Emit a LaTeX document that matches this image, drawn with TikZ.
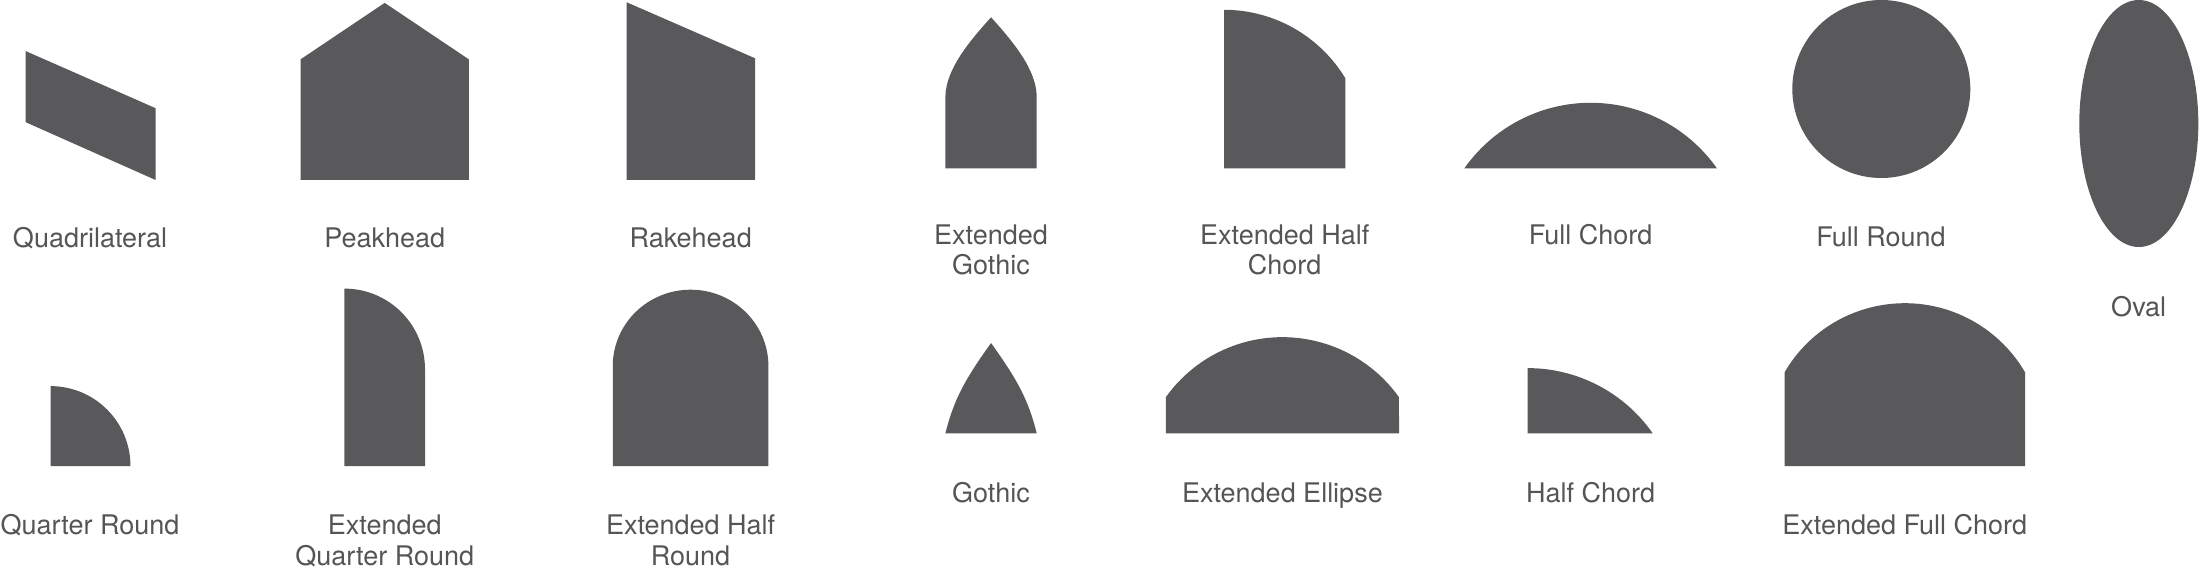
\documentclass[tikz,border=0pt]{standalone}
\usepackage{fontspec}
\setmainfont{TeX Gyre Heros}
\definecolor{shapegray}{RGB}{89,89,91}
\definecolor{textgray}{RGB}{85,85,87}
\begin{document}
\begin{tikzpicture}[x=0.5pt,y=-0.5pt,
  shp/.style={fill=shapegray,draw=none},
  lbl/.style={text=textgray,font=\fontsize{13.5}{15.4}\selectfont,align=center,anchor=base,inner sep=0pt}]
\useasboundingbox (0,0) rectangle (2199,572);
% ---------- row 1 ----------
% Quadrilateral
\fill[shp] (25.5,51) -- (155.6,108.2) -- (155.6,180) -- (25.5,122.1) -- cycle;
% Peakhead
\fill[shp] (300.5,180) -- (300.5,59.4) -- (384.7,2.9) -- (468.9,59.4) -- (468.9,180) -- cycle;
% Rakehead
\fill[shp] (626.5,180) -- (626.5,2.2) -- (755.1,58.3) -- (755.1,180) -- cycle;
% Extended Gothic
\fill[shp] (945.4,168.4) -- (945.4,97) .. controls (945.4,69) and (971.0,39.6) .. (991.05,17.3)
  .. controls (1011.1,39.6) and (1036.7,69) .. (1036.7,97) -- (1036.7,168.4) -- cycle;
% Extended Half Chord
\fill[shp] (1224,168.4) -- (1224,9.8) arc[start angle=270,end angle=328.94,radius=141.7] -- (1345.4,168.4) -- cycle;
% Full Chord
\fill[shp] (1464.3,168.4) arc[start angle=215.1,end angle=324.9,radius=154.4] -- cycle;
% Full Round
\fill[shp] (1881.3,89) circle[radius=89];
% Oval
\fill[shp] (2138.8,123.5) ellipse[x radius=59.5,y radius=123.5];
% ---------- row 2 ----------
% Quarter Round
\fill[shp] (50.5,466.1) -- (50.5,386.1) arc[start angle=270,end angle=360,radius=80] -- cycle;
% Extended Quarter Round
\fill[shp] (344.4,466.1) -- (344.4,288.6) arc[start angle=270,end angle=360,radius=80.6] -- (425,466.1) -- cycle;
% Extended Half Round
\fill[shp] (612.8,466.1) -- (612.8,366) arc[start angle=180,end angle=360,x radius=77.8,y radius=76.3] -- (768.4,466.1) -- cycle;
% Gothic
\fill[shp] (945.4,433.3) .. controls (953.87,399.35) and (964.9,379.6) .. (991.05,343)
  .. controls (1017.2,379.6) and (1028.23,399.35) .. (1036.7,433.3) -- cycle;
% Extended Ellipse
\fill[shp] (1165.8,433.3) -- (1165.8,397.2) arc[start angle=215.5,end angle=324.5,radius=143.2] -- (1399,433.3) -- cycle;
% Half Chord
\fill[shp] (1527.6,433.3) -- (1527.6,368.1) arc[start angle=270,end angle=325.06,radius=152.6] -- cycle;
% Extended Full Chord
\fill[shp] (1784.5,466.1) -- (1784.5,372.4) arc[start angle=210.2,end angle=329.8,radius=139.2] -- (2025.1,466.1) -- cycle;
% ---------- labels (anchor = baseline of the last line) ----------
\node[lbl] (lquad) at (90,247.5) {Quadrilateral};
\node[lbl] (lpeak) at (384.7,247.5) {Peakhead};
\node[lbl] (lrake) at (690.7,247.5) {Rakehead};
\node[lbl] (lextgoth) at (991,275) {Extended\\Gothic};
\node[lbl] (lexthalfchord) at (1284.7,275) {Extended Half\\Chord};
\node[lbl] (lfullchord) at (1590.6,244.2) {Full Chord};
\node[lbl] (lfullround) at (1881,247) {Full Round};
\node[lbl] (loval) at (2138.7,316) {Oval};
\node[lbl] (lqr) at (90,534.6) {Quarter Round};
\node[lbl] (lextqr) at (384.7,565) {Extended\\Quarter Round};
\node[lbl] (lexthr) at (690.6,565) {Extended Half\\Round};
\node[lbl] (lgoth) at (991,502.7) {Gothic};
\node[lbl] (lextell) at (1282.4,502.7) {Extended Ellipse};
\node[lbl] (lhalfchord) at (1590.6,502.7) {Half Chord};
\node[lbl] (lextfc) at (1904.8,534.6) {Extended Full Chord};
\end{tikzpicture}
\end{document}
